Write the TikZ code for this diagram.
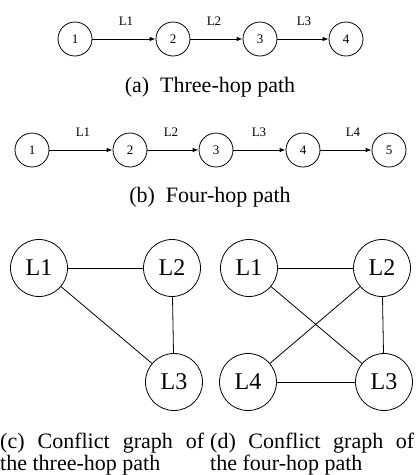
\documentclass[tikz,border=0pt]{standalone}
\usepackage{fontspec}
\setmainfont{Liberation Serif}
\usetikzlibrary{arrows.meta}
\tikzset{
  hop/.style={circle,draw,line width=0.8pt,minimum size=34pt,inner sep=0pt,font=\fontsize{13}{15}\selectfont},
  link/.style={circle,draw,line width=0.8pt,minimum size=57pt,inner sep=0pt,font=\fontsize{24}{28}\selectfont},
  arr/.style={line width=0.8pt,-{Latex[length=6pt,width=4.5pt]}},
  conn/.style={line width=0.8pt},
  lab/.style={font=\fontsize{13}{15}\selectfont,inner sep=0pt},
  captxt/.style={font=\fontsize{22}{22}\selectfont,inner sep=0pt}
}
\begin{document}
\begin{tikzpicture}[x=1pt,y=-1pt]
\useasboundingbox (0,0) rectangle (419,475);
% (a)
\node[hop] (a1) at (75,39) {1};
\node[hop] (a2) at (173,39) {2};
\node[hop] (a3) at (260,39) {3};
\node[hop] (a4) at (346,39) {4};
\draw[arr] (a1) -- (a2);
\draw[arr] (a2) -- (a3);
\draw[arr] (a3) -- (a4);
\node[lab] (la1) at (126,21) {L1};
\node[lab] (la2) at (214,21) {L2};
\node[lab] (la3) at (304,21) {L3};
\node[captxt,anchor=base] (capa) at (210,92) {(a)\ \ Three-hop path};
% (b)
\node[hop] (b1) at (32,150) {1};
\node[hop] (b2) at (130,150) {2};
\node[hop] (b3) at (216,150) {3};
\node[hop] (b4) at (303,150) {4};
\node[hop] (b5) at (389,150) {5};
\draw[arr] (b1) -- (b2);
\draw[arr] (b2) -- (b3);
\draw[arr] (b3) -- (b4);
\draw[arr] (b4) -- (b5);
\node[lab] (lb1) at (83,132) {L1};
\node[lab] (lb2) at (171,132) {L2};
\node[lab] (lb3) at (259,132) {L3};
\node[lab] (lb4) at (353,132) {L4};
\node[captxt,anchor=base] (capb) at (210,202) {(b)\ \ Four-hop path};
% (c)
\node[link] (c1) at (39,268) {L1};
\node[link] (c2) at (172,268) {L2};
\node[link] (c3) at (174,382) {L3};
\draw[conn] (c1) -- (c2);
\draw[conn] (c2) -- (c3);
\draw[conn] (c1) -- (c3);
\node[captxt,anchor=base west] (capc) at (0,448) {\parbox[t]{204pt}{(c)\hfill Conflict\hfill graph\hfill of\\the three-hop path}};
% (d)
\node[link] (d1) at (249,268) {L1};
\node[link] (d2) at (382,268) {L2};
\node[link] (d4) at (248,382) {L4};
\node[link] (d3) at (384,382) {L3};
\draw[conn] (d1) -- (d2);
\draw[conn] (d2) -- (d3);
\draw[conn] (d1) -- (d3);
\draw[conn] (d2) -- (d4);
\draw[conn] (d4) -- (d3);
\node[captxt,anchor=base west] (capd) at (210,448) {\parbox[t]{204pt}{(d)\hfill Conflict\hfill graph\hfill of\\the four-hop path}};
\end{tikzpicture}
\end{document}
